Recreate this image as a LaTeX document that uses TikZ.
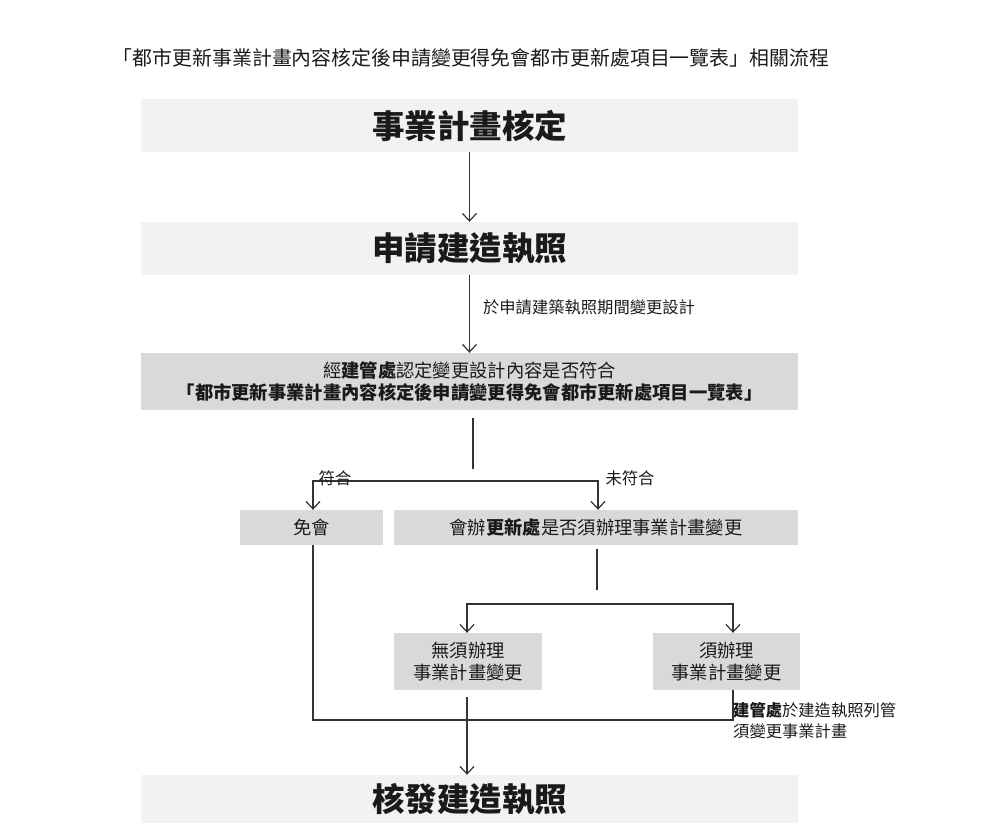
\documentclass[tikz,border=0pt]{standalone}
\usepackage{fontspec}
\setmainfont{Noto Sans CJK TC}
\usetikzlibrary{arrows.meta}
\definecolor{boxlight}{HTML}{F2F2F2}
\definecolor{boxmid}{HTML}{D9D9D9}
\definecolor{lineC}{HTML}{333333}
\definecolor{txt}{HTML}{1A1A1A}
\tikzset{
  base/.style={rectangle, inner sep=0pt, text=txt, align=center},
  bigbox/.style={base, fill=boxlight, minimum width=657pt, font=\fontsize{32.5}{36}\selectfont\bfseries},
  midbox/.style={base, fill=boxmid, font=\fontsize{18.3}{22.5}\selectfont},
  lbl/.style={inner sep=0pt, text=txt, font=\fontsize{16.3}{21.5}\selectfont, align=left},
  conn/.style={draw=lineC, line width=1.2pt},
  arr/.style={conn, -{Straight Barb[length=7.5pt,width=14pt,line width=1.2pt]}},
  arrb/.style={conn, {Straight Barb[length=7.5pt,width=14pt,line width=1.2pt]}-{Straight Barb[length=7.5pt,width=14pt,line width=1.2pt]}}
}
\begin{document}
\begin{tikzpicture}[x=1pt,y=-1pt]
\useasboundingbox (0,0) rectangle (996,823);
\node[inner sep=0pt, text=txt, font=\fontsize{19.9}{22}\selectfont] (title) at (471,58) {「都市更新事業計畫內容核定後申請變更得免會都市更新處項目一覽表」相關流程};

\node[bigbox, minimum height=53pt] (b1) at (469.5,125.5) {事業計畫核定};
\node[bigbox, minimum height=53pt] (b2) at (469.5,248.5) {申請建造執照};
\node[midbox, minimum width=657pt, minimum height=57pt] (b3) at (469.5,381.5) {經\textbf{建管處}認定變更設計內容是否符合\\\textbf{「都市更新事業計畫內容核定後申請變更得免會都市更新處項目一覽表」}};
\node[midbox, minimum width=143pt, minimum height=35pt] (mh) at (311.5,527.5) {免會};
\node[midbox, minimum width=404pt, minimum height=35pt] (hb) at (596,527.5) {會辦\textbf{更新處}是否須辦理事業計畫變更};
\node[midbox, minimum width=148pt, minimum height=57pt] (wx) at (468,661.5) {無須辦理\\事業計畫變更};
\node[midbox, minimum width=147pt, minimum height=57pt] (xb) at (726.5,661.5) {須辦理\\事業計畫變更};
\node[bigbox, minimum height=48pt] (b4) at (469.5,799) {核發建造執照};

% b1 -> b2 -> b3
\draw[arr] (b1.south) -- (b2.north);
\draw[arr] (b2.south) -- node[lbl, right=13pt, pos=0.42] (l1) {於申請建築執照期間變更設計} (b3.north);

% split 1
\coordinate (s1a) at (473,418);
\coordinate (s1b) at (473,469);
\draw[conn] (s1a) -- (s1b);
\coordinate (hL) at (313,481);
\coordinate (hR) at (598,481);
\draw[arrb] (hL |- mh.north) -- (hL) -- (hR) -- (hR |- hb.north);
\node[lbl] (fh) at (335,478) {符合};
\node[lbl] (wfh) at (630,478) {未符合};

% split 2
\coordinate (s2a) at (597,549);
\coordinate (s2b) at (597,590);
\draw[conn] (s2a) -- (s2b);
\coordinate (gL) at (467,604);
\coordinate (gR) at (733,604);
\draw[arrb] (gL |- wx.north) -- (gL) -- (gR) -- (gR |- xb.north);

% bottom merge
\coordinate (mB) at (313,720);
\coordinate (xB) at (733,720);
\draw[conn] (mB |- mh.south) -- (mB) -- (xB) -- (xB |- xb.south);
\node[lbl, anchor=north west] (l2) at (733,702) {\textbf{建管處}於建造執照列管\\須變更事業計畫};

% to final
\coordinate (wxs) at (467,697);
\draw[arr] (wxs) -- (wxs |- b4.north);
\end{tikzpicture}
\end{document}
